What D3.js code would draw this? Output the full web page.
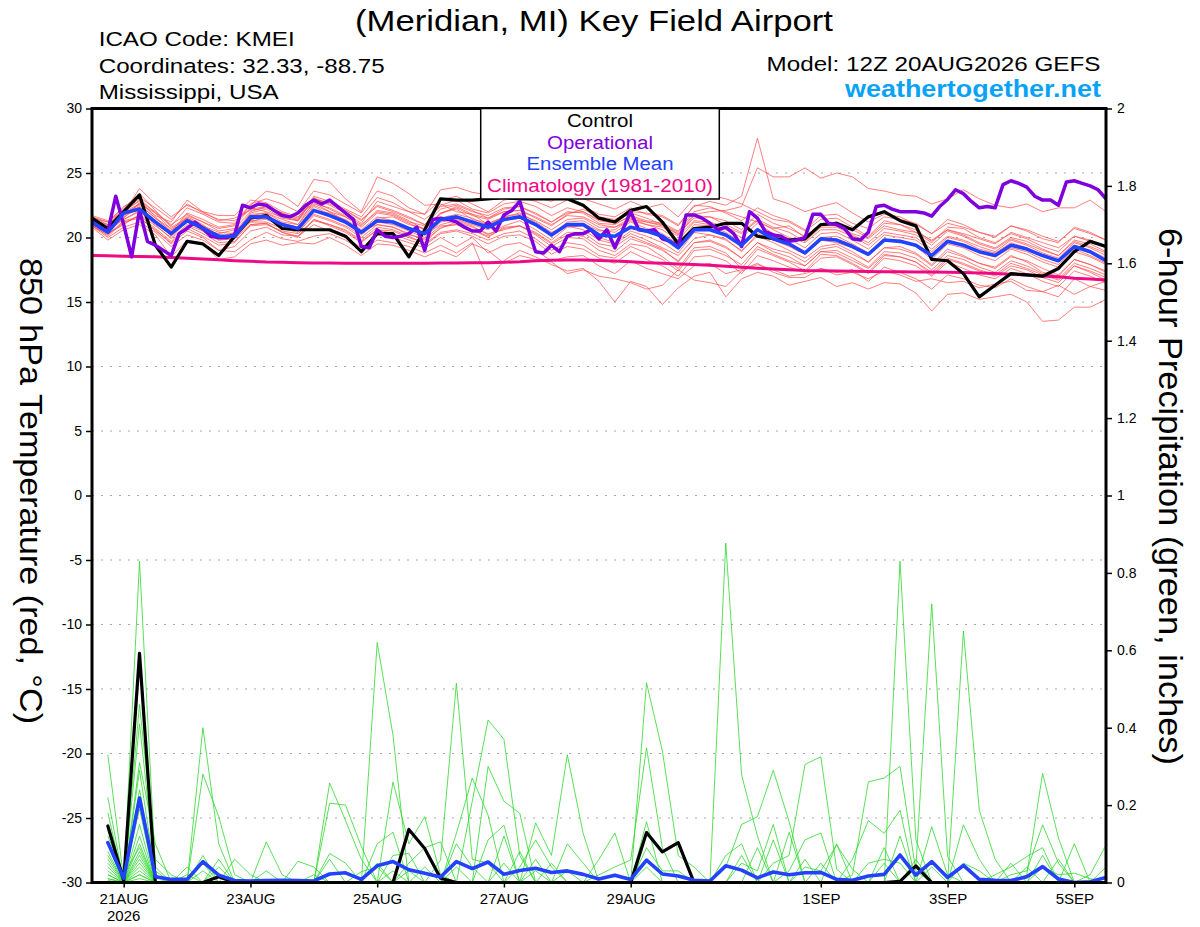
<!DOCTYPE html>
<html>
<head>
<meta charset="utf-8">
<title>(Meridian, MI) Key Field Airport - GEFS</title>
<script src="https://cdn.jsdelivr.net/npm/d3@7/dist/d3.min.js"></script>
<style>
html,body{margin:0;padding:0;background:#fff;}
svg{display:block;}
text{font-family:"Liberation Sans",Arial,Helvetica,sans-serif;}
</style>
</head>
<body>
<svg id="chart" width="1200" height="927"></svg>
<script>
// ================= DATA =================
const runStartUTC = Date.UTC(2026, 7, 20, 12);   // 12Z 20AUG2026
const forecastHours = 384;
const tempStepHours = 6;
const operStepHours = 3;
const precipStepHours = 6;

const tempTicks = [-30,-25,-20,-15,-10,-5,0,5,10,15,20,25,30];
const tempTickLabels = ["-30","-25","-20","-15","-10","-5","0","5","10","15","20","25","30"];
const gridTemps = [-25,-20,-15,-10,-5,0,5,10,15,20,25];
const precipTicks = [0,0.2,0.4,0.6,0.8,1,1.2,1.4,1.6,1.8,2];
const precipTickLabels = ["0","0.2","0.4","0.6","0.8","1","1.2","1.4","1.6","1.8","2"];
const dayTickDates = ["2026-08-21","2026-08-23","2026-08-25","2026-08-27","2026-08-29","2026-09-01","2026-09-03","2026-09-05"];
const dayTickLabels = ["21AUG","23AUG","25AUG","27AUG","29AUG","1SEP","3SEP","5SEP"];
const yearLabel = "2026";
const legendLabels = ["Control","Operational","Ensemble Mean","Climatology (1981-2010)"];

// 850 hPa temperature (deg C), 6-hourly from 12Z 20AUG
const controlTemp = [21.5,20.7,22.0,23.3,19.4, 17.7,19.7,19.5,18.6,20.1, 21.5,21.7,20.7,20.6,20.6, 20.6,20.1,18.9,20.3,20.3, 18.5,20.6,23.0,22.9,22.9, 23.0,23.1,23.0,23.0,23.0, 23.0,22.5,21.5,21.2,22.1, 22.4,21.2,19.5,20.7,20.8, 21.1,21.1,20.1,19.9,19.8, 19.9,21.0,21.1,20.6,21.6, 22.0,21.3,20.9,18.3,18.2, 17.2,15.4,16.3,17.2,17.1, 17.0,17.6,18.9,19.7,19.3];
const meanTemp = [21.2,20.4,21.9,22.2,21.2, 20.3,21.3,20.7,20.1,20.1, 21.6,21.6,21.0,20.7,22.1, 21.7,21.2,20.4,21.3,21.2, 20.7,20.3,21.4,21.6,21.2, 20.8,21.4,21.6,21.0,20.2, 21.0,21.0,20.2,20.1,20.8, 20.5,20.1,19.2,20.6,20.6, 20.2,19.4,20.6,19.9,19.5, 18.8,19.9,19.8,19.3,18.7, 19.8,19.7,19.4,18.6,19.7, 19.4,18.9,18.6,19.4,19.1, 18.6,18.2,19.3,18.9,18.2];
const climatologyTemp = [18.60,18.58,18.55,18.52,18.50, 18.45,18.40,18.33,18.27,18.20, 18.15,18.10,18.08,18.05,18.03, 18.02,18.00,18.00,18.00,18.00, 18.00,18.00,18.02,18.03,18.05, 18.05,18.08,18.12,18.20,18.24, 18.25,18.25,18.22,18.18,18.12, 18.05,18.00,17.95,17.90,17.85, 17.78,17.70,17.62,17.55,17.50, 17.45,17.43,17.40,17.38,17.36, 17.35,17.34,17.33,17.32,17.30, 17.28,17.25,17.20,17.15,17.10, 17.02,16.95,16.85,16.78,16.70];
// operational run, 3-hourly
const operationalTemp = [21.2,20.8,20.45,23.2,21.0,18.5,22.1,19.7, 19.4,19.0,18.6,20.3,20.7,21.2,20.7,20.1, 20.0,20.0,20.2,22.5,22.3,22.6,22.5,22.1, 21.7,21.6,21.9,22.5,22.9,22.6,22.9,22.4, 21.9,21.4,19.3,19.2,20.6,20.1,20.0,20.1, 20.3,20.8,19.0,21.4,21.5,21.4,21.2,20.8, 20.5,20.5,21.2,20.5,21.75,22.1,22.8,20.8, 18.9,18.8,19.4,18.9,20.1,20.3,20.3,20.6, 19.9,20.6,19.2,20.6,22.0,20.6,20.5,20.6, 19.9,19.7,19.3,21.75,21.75,21.5,21.1,20.6, 20.8,20.3,19.3,22.0,21.5,20.45,20.2,20.1, 19.7,19.8,20.0,21.8,21.8,21.1,21.0,20.7, 19.9,19.8,20.4,22.4,22.5,22.2,22.0,22.0, 22.0,21.9,21.65,22.4,22.95,23.7,23.4,22.8, 22.3,22.4,22.3,24.1,24.4,24.2,23.9,23.2, 22.9,22.9,22.5,24.3,24.4,24.2,24.0,23.7, 23.0];

// ensemble members (thin red)
const tempMember01 = [21.4,20.9,21.8,22.6,21.9, 21.0,21.8,21.2,20.7,20.9, 22.3,22.0,21.6,21.3,23.0, 22.6,22.1,21.4,22.4,22.0, 21.5,21.0,22.2,22.5,22.0, 21.7,22.3,22.4,21.9,21.2, 21.9,22.0,21.3,21.1,21.6, 21.2,20.9,20.3,21.5,21.6, 21.3,20.6,21.8,21.1,20.7, 20.1,21.0,21.2,20.6,20.0, 21.1,21.0,20.4,19.8,20.6, 20.3,19.9,19.5,20.4,20.0, 19.6,19.2,20.1,19.8,19.3];
const tempMember02 = [20.9,20.2,21.3,21.6,20.5, 19.6,20.7,20.1,19.4,19.6, 21.0,21.1,20.4,20.0,21.4, 21.0,20.5,19.7,20.6,20.5, 20.0,19.6,20.8,21.0,20.6, 20.1,20.7,20.9,20.3,19.5, 20.2,20.1,19.3,18.9,19.9, 19.5,19.0,18.2,19.6,19.7, 19.2,18.4,19.6,18.9,18.5, 17.8,18.9,18.8,18.2,17.6, 18.7,18.5,18.1,17.3,18.4, 18.0,17.5,17.1,18.0,17.6, 17.1,16.7,17.8,17.4,16.9];
const tempMember03 = [21.6,21.2,22.3,23.4,22.1, 20.8,21.5,20.9,20.4,20.3, 21.8,21.9,21.2,21.0,22.8, 22.2,21.6,20.8,21.9,21.7, 21.1,20.6,21.9,22.3,21.7, 21.4,22.0,22.1,21.5,20.9, 21.8,22.2,21.6,21.4,22.0, 21.9,21.7,21.0,22.4,22.8, 22.5,23.2,27.7,23.0,22.6, 22.0,22.4,22.7,21.9,21.2, 21.8,21.6,21.0,20.3,21.1, 20.8,20.4,20.0,20.9,20.6, 20.1,19.7,20.7,20.3,19.8];
const tempMember04 = [21.3,20.6,22.0,22.9,21.6, 20.4,21.9,21.4,20.8,21.0, 22.5,23.6,23.3,22.4,24.5, 24.3,23.0,22.0,24.7,24.2, 23.4,22.5,22.6,22.0,21.8, 21.0,21.6,21.9,21.2,20.4, 20.9,20.6,19.8,19.5,20.3, 19.8,19.2,18.6,19.9,20.2, 19.8,19.0,20.1,19.6,19.0, 18.4,19.3,19.5,18.9,18.1, 19.2,19.3,18.8,17.9,19.1, 18.6,18.0,17.6,18.5,18.2, 17.6,17.1,18.3,17.9,17.4];
const tempMember05 = [21.0,20.4,21.7,22.4,21.3, 20.1,21.5,20.8,20.0,20.4, 21.9,22.2,21.5,21.3,23.1, 22.5,21.9,21.1,22.8,22.4, 22.0,21.8,23.7,23.9,23.5, 23.3,23.8,23.4,23.1,22.8, 23.5,23.0,22.6,22.2,22.8, 22.3,22.6,21.6,23.0,23.3, 23.0,22.6,22.0,21.4,21.2, 20.5,21.4,21.5,20.8,20.1, 21.3,21.0,20.6,19.7,20.6, 20.2,19.6,19.2,20.0,19.7, 19.1,18.6,19.7,19.3,18.8];
const tempMember06 = [21.5,20.8,21.4,22.0,21.0, 19.9,21.0,20.5,19.8,19.9, 21.3,21.4,20.9,20.5,21.8, 21.4,20.9,20.2,21.2,21.0, 20.5,20.0,21.2,21.4,21.0, 20.6,21.3,21.5,20.9,20.2, 21.0,21.1,20.5,20.6,21.4, 21.2,21.0,20.4,21.8,22.0, 22.1,22.4,25.4,24.7,24.7, 25.4,24.6,25.0,24.7,23.8, 23.6,23.3,23.2,22.6,23.0, 23.7,23.0,22.5,22.3,22.6, 22.0,22.3,22.3,22.9,22.0];
const tempMember07 = [20.9,20.0,20.8,21.2,20.4, 19.3,20.2,19.8,19.0,18.9, 19.8,20.4,19.9,19.7,20.1, 20.3,19.8,19.0,19.8,19.6, 19.3,18.8,19.4,18.8,19.6, 16.7,18.2,19.0,18.5,17.9, 17.4,17.6,16.6,15.0,16.6, 16.2,14.8,16.1,17.0,17.3, 15.4,16.8,17.3,17.0,16.3, 16.6,16.9,16.2,16.5,16.0, 16.5,16.4,15.7,14.3,15.6, 15.7,15.2,15.4,15.6,15.0, 13.5,13.6,14.6,14.6,15.2];
const tempMember08 = [21.2,20.5,21.5,22.7,21.7, 21.2,22.9,22.0,21.7,21.7, 22.9,22.7,22.0,21.6,22.7, 22.0,21.3,20.4,21.5,21.6, 21.0,20.7,21.9,22.2,21.4, 21.1,21.6,21.8,21.3,20.6, 21.4,21.5,20.8,20.8,21.3, 21.0,20.6,19.8,21.2,21.0, 20.6,20.0,21.1,20.3,19.9, 19.2,20.3,20.4,19.8,19.1, 20.2,20.0,19.8,18.9,20.0, 19.7,19.1,18.8,19.6,19.2, 18.6,18.1,19.4,19.0,18.4];
const tempMember09 = [20.8,19.8,20.6,21.0,20.2, 18.5,19.8,19.5,18.3,18.5, 19.5,19.8,19.4,19.6,19.5, 20.0,19.4,18.6,19.5,19.4, 19.0,18.5,19.0,18.5,19.5, 19.0,18.0,18.6,18.3,18.1, 17.2,17.5,17.0,16.8,16.5, 16.0,16.3,17.5,16.7,16.5, 16.2,17.4,17.9,17.5,17.0, 17.2,17.6,17.1,17.3,16.8, 17.4,17.1,16.6,16.8,16.5, 16.6,16.1,16.4,16.6,15.9, 15.8,16.3,15.6,16.2,16.6];
const tempMember10 = [21.6,21.0,22.2,23.0,21.9, 20.6,21.2,20.9,20.2,20.0, 21.2,21.6,21.1,20.8,22.4, 21.8,21.4,20.6,21.6,21.3, 20.6,20.2,21.0,21.3,20.9, 20.2,20.9,21.3,20.6,19.8, 20.8,20.9,20.0,19.6,20.5, 20.1,19.6,18.8,20.4,20.2, 19.9,18.9,20.3,19.8,19.3, 18.7,19.8,19.6,19.2,18.6, 19.8,19.8,19.4,18.5,19.7, 19.4,18.8,18.5,19.2,18.9, 18.3,17.9,19.1,18.6,18.0];
const tempMember11 = [21.1,20.3,21.0,21.8,20.9, 20.0,21.3,20.5,19.8,20.1, 21.5,21.8,21.0,20.6,22.0, 21.9,21.3,20.5,21.0,20.8, 20.3,19.8,20.7,21.2,20.8, 20.3,20.6,20.9,20.2,19.3, 20.0,19.9,19.0,18.6,19.5, 19.3,18.5,17.6,19.2,19.3, 18.8,17.6,19.1,18.6,18.1, 17.4,18.7,18.6,18.0,17.3, 18.6,18.5,18.1,17.1,18.3, 17.9,17.4,17.0,17.8,17.5, 16.9,16.5,17.8,17.3,16.7];
const tempMember12 = [21.3,20.7,21.9,23.8,22.6, 21.6,22.5,22.0,21.3,21.5, 22.1,22.3,21.8,21.4,23.0, 22.7,22.1,21.3,22.5,22.1, 21.6,21.0,22.5,22.9,22.2, 21.9,22.6,22.8,22.4,21.7, 22.3,22.0,21.4,21.2,21.9, 21.5,21.0,20.2,21.7,21.6, 21.0,20.4,21.4,20.8,20.4, 19.7,20.8,20.8,20.2,19.6, 20.7,20.5,20.2,19.4,20.5, 20.1,19.5,19.1,19.9,19.5, 19.0,18.6,19.8,19.5,18.9];
const tempMember13 = [21.0,20.1,21.2,21.5,20.6, 19.5,20.5,20.0,19.0,19.3, 20.5,20.8,20.2,20.1,21.0, 20.5,20.0,19.2,20.2,20.0, 19.6,19.2,20.0,19.3,20.0, 18.8,19.4,19.6,19.0,18.2, 18.5,18.6,17.8,17.2,18.2, 17.6,17.2,16.8,17.8,18.0, 17.2,17.5,18.0,17.3,16.9, 16.9,17.6,17.3,17.5,16.6, 17.7,17.3,16.8,16.0,17.1, 16.8,16.3,16.1,16.8,16.2, 15.8,15.4,16.8,16.2,15.9];
const tempMember14 = [21.4,21.0,22.1,22.8,22.0, 20.9,22.3,21.8,21.2,21.1, 22.6,23.0,22.6,22.0,23.6, 23.3,22.6,21.9,23.6,23.2, 22.3,21.8,22.9,23.2,22.6, 22.0,22.9,23.1,22.8,22.3, 22.9,22.4,21.8,21.6,22.3, 21.8,21.6,20.9,22.5,22.4, 21.9,21.3,22.3,21.7,21.3, 20.6,21.7,21.8,21.1,20.7, 21.6,21.4,21.1,20.3,21.4, 21.0,20.4,20.1,20.9,20.5, 19.9,19.6,20.8,20.4,19.8];
const tempMember15 = [21.2,20.6,21.6,22.3,21.2, 20.3,21.6,21.0,20.0,20.3, 21.7,21.9,21.4,21.0,22.5, 22.0,21.6,20.9,22.1,21.9, 21.3,20.6,21.5,21.8,21.5, 20.9,21.5,21.6,21.0,20.2, 21.2,21.3,20.6,20.4,21.2, 20.7,20.3,19.5,21.0,20.9, 20.4,19.6,20.7,20.0,19.6, 18.9,20.0,20.1,19.5,18.8, 19.9,19.7,19.3,18.3,19.5, 19.2,18.6,18.2,19.1,18.7, 18.1,17.7,18.9,18.5,17.9];
const tempMember16 = [20.9,20.3,21.1,21.7,20.7, 19.7,20.9,20.3,19.6,19.7, 20.9,21.0,20.5,20.3,21.3, 21.0,20.6,19.8,20.8,20.6, 20.1,19.5,20.4,20.6,20.3, 19.8,20.3,20.5,19.9,19.0, 19.6,19.4,18.6,18.4,19.3, 18.8,18.3,17.4,19.0,19.1, 18.6,17.9,19.3,18.7,18.2, 17.8,18.9,19.0,18.4,17.7, 18.9,18.8,18.4,17.5,18.6, 18.3,17.7,17.3,18.2,17.8, 17.2,16.8,18.0,17.6,17.1];
const tempMember17 = [21.5,21.2,22.4,23.1,22.3, 21.4,22.6,21.9,21.4,21.3, 22.2,22.4,21.9,21.5,23.2, 22.8,22.2,21.6,23.1,22.7, 22.0,21.4,22.4,22.6,22.1, 21.5,22.2,22.4,21.8,21.2, 22.0,21.9,21.1,21.0,21.7, 21.3,21.1,20.5,22.0,22.3, 22.0,21.6,21.2,20.7,20.9, 20.0,21.0,20.9,20.3,19.9, 20.9,20.6,20.4,19.6,20.8, 20.7,20.0,19.6,20.3,19.9, 19.3,18.9,20.1,19.7,19.2];
const tempMember18 = [21.0,20.5,21.4,22.1,21.1, 20.2,21.2,20.6,20.3,20.6, 21.2,21.2,20.7,20.4,21.7, 21.3,20.8,20.0,21.0,20.8, 20.2,19.9,20.9,21.0,20.6, 20.0,20.8,20.9,20.4,19.6, 20.4,20.4,19.5,19.3,20.1, 19.6,19.1,18.1,19.6,19.8, 19.3,18.4,19.6,19.1,18.8, 18.1,19.1,19.3,18.7,18.1, 19.2,19.1,18.7,17.8,18.9, 18.5,18.0,17.7,18.6,18.1, 17.3,17.0,18.3,17.9,17.3];
const tempMember19 = [21.3,20.8,21.8,22.5,21.5, 20.5,21.7,21.2,20.5,20.7, 22.0,22.4,21.9,21.3,22.6, 22.3,21.7,21.0,22.0,21.8, 21.2,20.9,21.8,22.4,21.8, 21.5,22.0,22.1,21.6,21.0, 21.7,21.6,21.0,20.8,21.5, 21.0,20.8,20.1,21.3,21.2, 20.8,20.3,21.3,20.6,20.0, 19.6,20.6,20.6,20.1,19.4, 20.4,20.2,20.0,19.1,20.1, 19.8,19.3,18.9,19.8,19.4, 18.8,18.4,19.6,19.2,18.6];
const tempMember20 = [21.7,21.3,22.0,22.6,21.5, 20.7,21.4,20.7,19.9,19.9, 21.0,21.1,20.4,20.1,21.4, 20.9,20.4,19.6,20.6,20.3, 19.8,19.4,20.3,20.5,20.1, 19.5,20.1,20.2,19.7,18.7, 19.3,19.1,18.4,18.0,18.9, 18.3,17.8,17.0,18.5,18.6, 18.2,17.2,18.6,18.2,17.7, 17.3,18.4,18.5,17.9,17.2, 18.4,18.2,17.8,17.0,18.1, 17.6,17.1,16.8,17.6,17.2, 16.6,16.2,17.4,17.0,16.5];
const tempMembers = [tempMember01,tempMember02,tempMember03,tempMember04,tempMember05,tempMember06,tempMember07,tempMember08,tempMember09,tempMember10,tempMember11,tempMember12,tempMember13,tempMember14,tempMember15,tempMember16,tempMember17,tempMember18,tempMember19,tempMember20];

// 6-hour precipitation (inches), periods ending 18Z 20AUG ... 12Z 5SEP
const controlPrecip = [.146,.005,.592,0,0,0,0,.015, 0,0,0,0,0,0,0,0, 0,0,0,.137,.088,.011,0,0, 0,0,0,0,0,0,0,0, 0,0,.129,.079,.103,0,0,0, 0,0,0,0,0,0,0,0, 0,0,.003,.043,0,0,0,0, 0,0,0,0,0,0,0,0];
const meanPrecip = [.103,.011,.218,.015,.008,.008,.054,.019, .005,.004,.005,.006,.005,.004,.022,.025, .008,.043,.054,.033,.024,.014,.054,.036, .053,.021,.031,.037,.026,.030,.021,.009, .019,.008,.058,.022,.017,.006,.004,.043, .032,.012,.027,.020,.025,.026,.008,.006, .017,.021,.071,.019,.054,.013,.044,.008, .006,.005,.015,.041,.009,0,.002,.013];
const precipMember01 = [.33,.01,.19,0,0,.04,0,0, 0,0,0,0,0,0,0,0, 0,0,.26,.1,.17,.02,0,0, 0,0,0,0,0,0,0,0, 0,0,0,0,0,0,0,0, 0,0,0,0,0,0,0,0, 0,0,0,0,.04,0,.149,.06, 0,0,0,0,0,0,0,0];
const precipMember02 = [.22,0,.31,.1,0,0,0,0, 0,0,.105,.02,0,0,0,0, 0,.05,0,0,0,0,0,0, 0,0,.08,0,0,.03,0,0, 0,0,0,0,0,0,0,0, 0,0,0,0,.04,.03,.097,.034, 0,0,0,0,0,0,0,0, 0,.05,0,0,0,0,0,0];
const precipMember03 = [.18,0,.08,0,.01,0,.4,.1, 0,0,0,0,0,0,0,0, 0,0,0,0,0,0,.1,.04, 0,0,0,0,0,0,0,0, 0,0,0,0,0,0,0,.04, .15,.17,.29,.157,0,0,0,0, 0,0,0,0,0,0,0,0, 0,0,0,.07,0,0,0,0];
const precipMember04 = [.14,0,.83,.04,0,0,0,0, 0,0,0,0,0,0,.205,.2, .093,0,0,0,0,0,0,0, 0,0,0,0,.05,0,0,0, 0,0,0,0,0,0,0,0, 0,0,0,0,0,0,0,0, 0,0,0,.04,.72,.067,0,0, 0,0,0,0,0,0,0,0];
const precipMember05 = [.12,.02,.09,0,0,0,0,0, .06,.02,0,0,0,0,0,0, 0,0,0,0,.04,0,0,0, 0,0,0,.03,0,0,0,0, 0,0,.516,.34,.07,.04,0,0, 0,.09,0,0,0,0,0,0, 0,0,0,0,0,0,0,0, 0,0,.04,0,0,0,0,0];
const precipMember06 = [.1,0,.12,0,0,.02,0,0, 0,0,0,0,.055,.04,0,0, 0,0,0,0,0,0,0,.21, .42,.37,.07,0,0,0,0,0, 0,0,0,0,0,0,0,0, 0,0,.11,0,0,0,0,0, 0,0,0,0,0,0,.05,.03, 0,0,0,0,0,0,0,.04];
const precipMember07 = [.08,0,.29,.02,0,0,0,0, 0,0,0,0,0,0,0,0, 0,0,.07,.075,0,0,0,0, 0,0,0,0,0,.1,.05,0, 0,0,0,0,0,0,0,0, 0,0,0,.13,0,0,0,.02, .26,.27,.3,.03,0,0,0,0, 0,0,0,0,0,0,0,0];
const precipMember08 = [.07,0,.03,0,0,0,.28,.17, .02,0,0,0,0,0,0,0, 0,0,0,0,0,0,0,0, 0,0,0,0,0,0,0,0, 0,0,.09,.03,.03,0,0,0, 0,0,0,0,0,0,0,0, 0,0,0,0,0,0,.65,.187, .06,0,0,0,0,0,0,0];
const precipMember09 = [.06,0,.46,.06,.02,0,0,0, 0,0,0,0,0,0,0,0, 0,0,0,0,0,0,.04,0, .11,.148,0,0,0,0,0,0, 0,0,0,0,0,0,0,.877, .278,.12,0,0,0,0,0,0, 0,.09,0,0,0,0,0,0, 0,0,0,0,0,0,0,0];
const precipMember10 = [.05,0,.02,0,0,0,.07,0, 0,0,0,0,0,0,0,0, 0,.62,.38,0,0,0,0,0, 0,0,0,0,0,0,0,0, 0,0,.04,0,0,0,0,0, 0,0,0,.03,.11,.128,0,0, 0,0,.12,0,0,0,0,0, 0,0,0,0,0,0,0,0];
const precipMember11 = [.04,0,.15,0,0,0,0,.06, 0,0,0,0,0,0,.257,.16, .06,0,0,0,0,0,0,0, 0,0,0,.06,0,0,0,0, 0,0,0,0,0,0,0,0, .05,.03,.15,0,0,0,0,0, 0,0,0,0,0,0,0,0, .02,.04,.067,.09,0,0,0,0];
const precipMember12 = [.03,0,.41,.03,0,0,0,0, 0,0,0,0,0,0,0,0, 0,0,0,0,0,.058,.515,.06, .05,0,0,0,0,0,0,0, 0,0,0,0,0,0,0,0, .07,0,0,0,0,0,0,.06, .16,.127,.187,0,0,0,0,0, 0,0,0,0,0,0,0,0];
const precipMember13 = [.02,0,.05,0,0,0,.05,0, 0,0,0,0,0,0,.075,.05, 0,0,0,0,0,0,0,0, 0,0,0,0,0,0,0,.06, .128,0,.157,0,0,0,0,0, 0,0,0,0,0,0,0,0, 0,0,0,.06,0,0,0,0, 0,0,0,.04,.02,.024,.01,0];
const precipMember14 = [.02,0,.04,0,0,0,0,.04, 0,0,0,0,0,0,0,0, .028,.04,0,0,0,0,0,0, 0,0,.04,.11,.04,0,0,0, 0,0,0,0,0,0,0,0, 0,0,0,0,0,.05,0,0, 0,0,.83,.11,0,0,0,0, 0,0,0,0,0,0,0,0];
const precipMember15 = [.01,0,.24,.02,0,0,0,0, 0,0,0,0,0,0,0,0, 0,0,.03,0,0,0,0,0, 0,0,0,0,0,0,0,.02, .04,.058,.348,.09,0,0,0,0, 0,0,0,0,.06,0,0,0, 0,0,0,0,0,0,0,0, 0,0,0,0,.06,0,0,0];
const precipMember16 = [.01,0,.02,0,0,0,.03,0, 0,0,0,0,0,0,0,0, 0,0,0,.05,.09,.105,0,0, 0,0,0,0,0,0,0,0, 0,0,0,0,0,0,0,.07, .1,0,0,0,0,0,0,0, 0,0,0,0,0,0,0,0, 0,0,.02,.282,.115,0,0,0];
const precipMember17 = [0,0,.1,0,0,0,0,0, 0,0,.03,0,0,0,0,0, 0,0,0,0,0,0,0,0, .3,.21,.179,0,0,0,0,0, 0,0,0,0,0,0,0,0, 0,0,0,0,0,0,0,0, 0,.05,0,0,.144,.02,0,0, 0,0,0,0,0,0,0,0];
const precipMember18 = [.005,0,.07,0,0,0,0,0, 0,0,0,0,0,0,.06,0, 0,0,0,0,0,0,.127,.27, .174,0,0,0,0,0,0,0, 0,0,0,0,0,0,0,0, 0,0,0,0,0,0,0,0, .05,.06,.05,0,0,0,0,0, 0,0,0,0,0,0,.02,.097];
const precipMember19 = [0,0,.06,0,0,0,0,0, 0,0,0,0,0,0,0,0, 0,.1,.13,0,0,0,0,0, 0,.12,0,0,0,0,0,0, 0,0,0,0,0,0,0,0, 0,0,.05,.07,.305,.325,.034,0, 0,0,0,0,0,0,0,0, 0,0,0,0,0,.1,0,0];
const precipMember20 = [0,0,.01,0,0,0,0,0, 0,0,0,0,0,.02,0,0, 0,0,0,.03,0,0,0,0, 0,.05,0,.154,.07,.33,.127,0, 0,0,0,0,0,0,0,0, 0,0,0,0,0,0,.1,0, 0,0,0,0,0,0,0,0, 0,.02,.03,.149,.05,0,0,0];
const precipMembers = [precipMember01,precipMember02,precipMember03,precipMember04,precipMember05,precipMember06,precipMember07,precipMember08,precipMember09,precipMember10,precipMember11,precipMember12,precipMember13,precipMember14,precipMember15,precipMember16,precipMember17,precipMember18,precipMember19,precipMember20];

// ================= CHART =================
const svg = d3.select("#chart");
const L = 92, R = 1106, T = 108.5, B = 882.5;
const atHour = h => new Date(runStartUTC + h * 3600e3);
const x = d3.scaleUtc().domain([atHour(0), atHour(forecastHours)]).range([L, R]);
const yT = d3.scaleLinear().domain([-30, 30]).range([B, T]);
const yP = d3.scaleLinear().domain([0, 2]).range([B, T]);

const COL = {member:"#ff4d4d", precip:"#2fd82f", control:"#000000", oper:"#8000dd", mean:"#2242ff", clim:"#ee0a85", site:"#0aa2f5"};

svg.append("rect").attr("width",1200).attr("height",927).attr("fill","#fff");
svg.append("defs").append("clipPath").attr("id","plotclip")
  .append("rect").attr("x",L).attr("y",T).attr("width",R-L).attr("height",B-T);

// gridlines
svg.append("g").selectAll("line").data(gridTemps).join("line")
  .attr("x1",L).attr("x2",R).attr("y1",d=>yT(d)).attr("y2",d=>yT(d))
  .attr("stroke","#a6a6a6").attr("stroke-width",1.2).attr("stroke-dasharray","2,7");

const plot = svg.append("g").attr("clip-path","url(#plotclip)");
const tempLine = d3.line().x((d,i)=>x(atHour(i*tempStepHours))).y(d=>yT(d));
const operLine = d3.line().x((d,i)=>x(atHour(i*operStepHours))).y(d=>yT(d));
const precLine = d3.line().x((d,i)=>x(atHour((i+1)*precipStepHours))).y(d=>yP(d));

function drawPath(g, data, gen, color, width){
  return g.append("path").datum(data).attr("d",gen).attr("fill","none")
    .attr("stroke",color).attr("stroke-width",width).attr("stroke-linejoin","round").attr("stroke-linecap","round");
}

plot.append("g").selectAll("path").data(tempMembers).join("path")
  .attr("d",tempLine).attr("fill","none").attr("stroke",COL.member).attr("stroke-width",0.8).attr("stroke-opacity",0.9);
plot.append("g").selectAll("path").data(precipMembers).join("path")
  .attr("d",precLine).attr("fill","none").attr("stroke",COL.precip).attr("stroke-width",0.8);

drawPath(plot, climatologyTemp, tempLine, COL.clim, 3);
drawPath(plot, controlTemp, tempLine, COL.control, 3.2);
drawPath(plot, operationalTemp, operLine, COL.oper, 3.5);
drawPath(plot, meanTemp, tempLine, COL.mean, 3.6);
drawPath(plot, controlPrecip, precLine, COL.control, 3.2);
drawPath(plot, meanPrecip, precLine, COL.mean, 3.6);

// frame
svg.append("rect").attr("x",L).attr("y",T).attr("width",R-L).attr("height",B-T)
  .attr("fill","none").attr("stroke","#000").attr("stroke-width",3);

// axes
const styleAxis = (g, fs) => {
  g.select(".domain").remove();
  g.selectAll(".tick line").attr("stroke","#000").attr("stroke-width",1.5);
  g.selectAll(".tick text").attr("fill","#000").style("font-size",fs+"px")
    .style("font-family","'Liberation Sans',Arial,Helvetica,sans-serif");
};
svg.append("g").attr("transform",`translate(${L},0)`)
  .call(d3.axisLeft(yT).tickValues(tempTicks).tickSize(6).tickPadding(4).tickFormat((d,i)=>tempTickLabels[i]))
  .call(g=>styleAxis(g,14));
svg.append("g").attr("transform",`translate(${R},0)`)
  .call(d3.axisRight(yP).tickValues(precipTicks).tickSize(6).tickPadding(5).tickFormat((d,i)=>precipTickLabels[i]))
  .call(g=>styleAxis(g,14));
const dayDates = dayTickDates.map(s=>new Date(s+"T00:00:00Z"));
svg.append("g").attr("transform",`translate(0,${B})`)
  .call(d3.axisBottom(x).tickValues(dayDates).tickSize(5).tickPadding(6).tickFormat((d,i)=>dayTickLabels[i]))
  .call(g=>styleAxis(g,15));
svg.append("text").attr("x",x(dayDates[0])).attr("y",921).attr("text-anchor","middle")
  .style("font-size","15px").text(yearLabel);

// legend
svg.append("rect").attr("x",480.7).attr("y",T).attr("width",238.6).attr("height",199-T)
  .attr("fill","#fff").attr("stroke","#000").attr("stroke-width",1.5);
const legendColors = [COL.control, COL.oper, COL.mean, COL.clim];
const legendBase = [127, 148.5, 170, 192];
const legendWidth = [66, 106, 147, 226];
svg.append("g").selectAll("text").data(legendLabels).join("text")
  .attr("x",600).attr("y",(d,i)=>legendBase[i]).attr("text-anchor","middle")
  .attr("fill",(d,i)=>legendColors[i]).style("font-size","18px")
  .attr("textLength",(d,i)=>legendWidth[i]).attr("lengthAdjust","spacingAndGlyphs")
  .text(d=>d);

// titles
const addText = (txt, xx, yy, fs, w, opts={}) => {
  const t = svg.append("text").attr("x",xx).attr("y",yy).style("font-size",fs+"px")
    .attr("fill",opts.fill||"#000").text(txt);
  if (w) t.attr("textLength",w).attr("lengthAdjust","spacingAndGlyphs");
  if (opts.bold) t.style("font-weight","bold");
  if (opts.anchor) t.attr("text-anchor",opts.anchor);
  return t;
};
addText("(Meridian, MI) Key Field Airport", 355, 30.5, 29, 478);
addText("ICAO Code: KMEI", 98.7, 45.7, 20.5, 196);
addText("Coordinates: 32.33, -88.75", 98.7, 72.5, 20.5, 286);
addText("Mississippi, USA", 98.7, 99, 20.5, 180);
addText("Model: 12Z 20AUG2026 GEFS", 766.5, 71, 20.5, 334);
addText("weathertogether.net", 845, 96.7, 23, 256, {bold:true, fill:COL.site});

// rotated axis titles
svg.append("text").attr("transform","translate(20,491) rotate(90)").attr("text-anchor","middle")
  .style("font-size","31px").attr("textLength",466).attr("lengthAdjust","spacingAndGlyphs")
  .text("850 hPa Temperature (red, \u00B0C)");
svg.append("text").attr("transform","translate(1159,496.5) rotate(90)").attr("text-anchor","middle")
  .style("font-size","34px").attr("textLength",537).attr("lengthAdjust","spacingAndGlyphs")
  .text("6-hour Precipitation (green, inches)");
</script>
</body>
</html>
